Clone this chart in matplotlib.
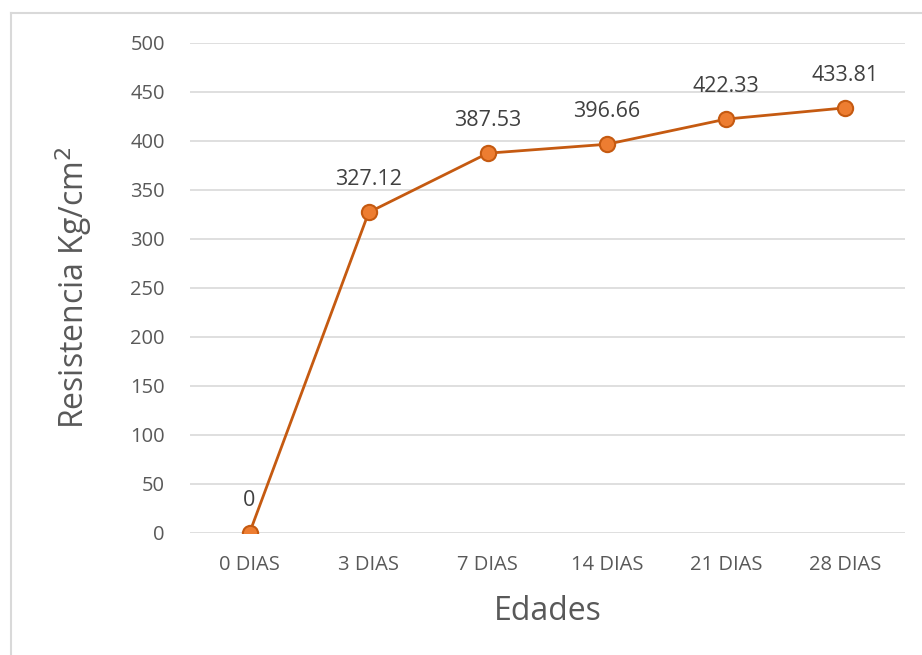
import matplotlib
matplotlib.use("Agg")
import matplotlib.pyplot as plt
from matplotlib.lines import Line2D

categories = ["0 DIAS", "3 DIAS", "7 DIAS", "14 DIAS", "21 DIAS", "28 DIAS"]
resistencia = [0, 327.12, 387.53, 396.66, 422.33, 433.81]
value_labels = ["0", "327.12", "387.53", "396.66", "422.33", "433.81"]
y_ticks = [0, 50, 100, 150, 200, 250, 300, 350, 400, 450, 500]

plt.rcParams["font.family"] = ["Open Sans", "DejaVu Sans"]
text_color = "#595959"

fig = plt.figure(figsize=(9.22, 6.55), dpi=100)
ax = fig.add_axes([0.206, 0.1863, 0.7756, 0.7481])

x = list(range(len(categories)))
ax.plot(x, resistencia, color="#C55A11", linewidth=2, marker="o", markersize=11,
        markerfacecolor="#ED7D31", markeredgecolor="#C55A11", markeredgewidth=1.5,
        zorder=3)

for xi, yi, lab in zip(x, resistencia, value_labels):
    ax.annotate(lab, (xi, yi), xytext=(0, 16), textcoords="offset points",
                ha="center", va="bottom", fontsize=15.5, color="#404040")

ax.set_xlim(-0.5, len(categories) - 0.5)
ax.set_ylim(0, 500)
ax.set_yticks(y_ticks)
ax.set_xticks(x)
ax.set_xticklabels(categories)
ax.tick_params(axis="both", length=0, labelsize=14.5, labelcolor=text_color)
ax.tick_params(axis="y", pad=18)
ax.tick_params(axis="x", pad=16)
ax.yaxis.grid(True, color="#D9D9D9", linewidth=1.2)
ax.set_axisbelow(True)
for s in ax.spines.values():
    s.set_visible(False)

ax.set_xlabel("Edades", fontsize=23, color=text_color, labelpad=14)
ax.set_ylabel("Resistencia Kg/cm$^2$", fontsize=23, color=text_color, labelpad=26)

# chart frame
fig.add_artist(Line2D([11 / 922, 11 / 922], [0, 1 - 13 / 655], transform=fig.transFigure,
                      color="#D9D9D9", linewidth=1.5))
fig.add_artist(Line2D([11 / 922, 1], [1 - 13 / 655, 1 - 13 / 655], transform=fig.transFigure,
                      color="#D9D9D9", linewidth=1.5))

fig.savefig("out.png", dpi=100)
